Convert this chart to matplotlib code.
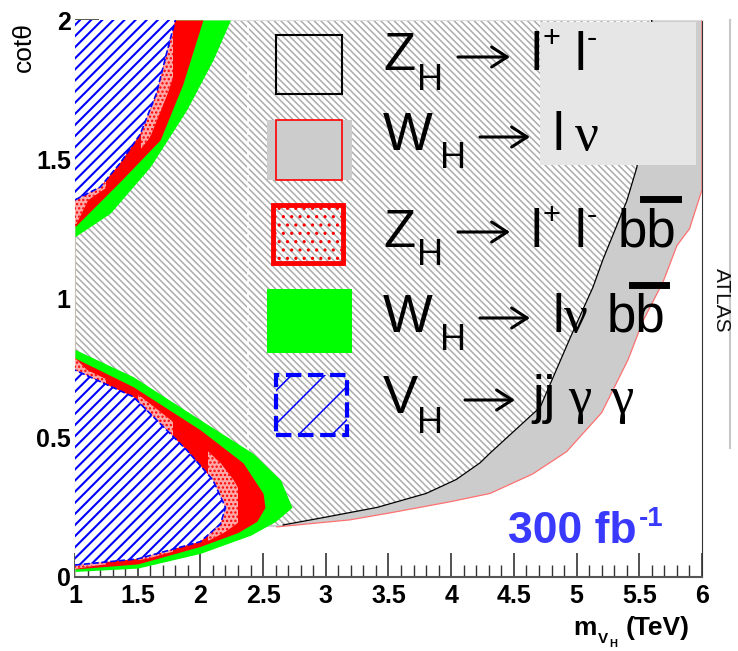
import numpy as np
import matplotlib
matplotlib.use('Agg')
import matplotlib.pyplot as plt
from matplotlib.patches import Rectangle
from matplotlib.lines import Line2D

plt.rcParams['font.family'] = ['Liberation Sans', 'DejaVu Sans']
plt.rcParams['hatch.linewidth'] = 1.1

# W_H -> l nu : lower (red) edge of the grey reach
wlnu_x = [2.61, 3.19, 3.51, 3.99, 4.31, 4.65, 4.92, 5.20, 5.41, 5.53, 5.69, 5.80, 5.90, 6.00]
wlnu_y = [0.18, 0.205, 0.23, 0.27, 0.30, 0.37, 0.45, 0.59, 0.78, 0.92, 1.06, 1.19, 1.25, 1.39]

# Z_H -> l+ l- : lower (black) edge of the hatched reach
zll_x = [2.66, 3.00, 3.41, 3.80, 4.04, 4.23, 4.31, 4.71, 4.95, 5.13, 5.21, 5.40, 5.48, 5.55, 5.60]
zll_y = [0.187, 0.215, 0.25, 0.30, 0.35, 0.41, 0.445, 0.61, 0.86, 1.04, 1.14, 1.35, 1.47, 1.70, 2.00]

# contours given as x-edge vs cot(theta), lower lobe
wlnubb_lo_y = [0.02, 0.032, 0.085, 0.15, 0.20, 0.25, 0.348, 0.444, 0.564, 0.719, 0.817]
wlnubb_lo_x = [1.00, 1.50, 2.00, 2.40, 2.60, 2.73, 2.64, 2.42, 2.00, 1.465, 1.00]
zllbb_lo_y = [0.029, 0.047, 0.11, 0.16, 0.20, 0.25, 0.30, 0.41, 0.528, 0.683, 0.786]
zllbb_lo_x = [1.00, 1.50, 2.00, 2.30, 2.45, 2.515, 2.50, 2.34, 2.00, 1.465, 1.00]
jjgg_lo_y = [0.043, 0.065, 0.127, 0.19, 0.25, 0.27, 0.348, 0.456, 0.647, 0.743]
jjgg_lo_x = [1.00, 1.50, 2.00, 2.16, 2.20, 2.18, 2.10, 1.89, 1.465, 1.00]

# upper lobe
wlnubb_up_y = [1.222, 1.306, 1.473, 1.677, 1.856, 2.00]
wlnubb_up_x = [1.00, 1.28, 1.60, 1.89, 2.10, 2.24]
zllbb_up_y = [1.258, 1.42, 1.57, 1.77, 2.00]
zllbb_up_x = [1.00, 1.36, 1.68, 1.86, 2.02]
jjgg_up_y = [1.354, 1.40, 1.486, 1.59, 1.737, 1.88, 2.00]
jjgg_up_x = [1.00, 1.20, 1.36, 1.52, 1.65, 1.73, 1.80]

xticks = [1, 1.5, 2, 2.5, 3, 3.5, 4, 4.5, 5, 5.5, 6]
xticklabels = ['1', '1.5', '2', '2.5', '3', '3.5', '4', '4.5', '5', '5.5', '6']
yticks = [0, 0.5, 1, 1.5, 2]
yticklabels = ['0', '0.5', '1', '1.5', '2']

W, H = 738, 651


def P(px, py):
    return px / W, 1 - py / H


fig = plt.figure(figsize=(7.38, 6.51), dpi=100)
ax = fig.add_axes([75/W, 1-577/H, 627/W, 557/H])
ax.set_xlim(1, 6)
ax.set_ylim(0, 2)
ax.set_axisbelow(True)

# grey W_H -> l nu reach
ax.fill([1.0] + wlnu_x + [6.0, 1.0], [0.175] + wlnu_y + [2.0, 2.0],
        color='#cccccc', lw=0, zorder=1)
# hatched Z_H -> l+ l- reach
ax.fill([1.0] + zll_x + [1.0], [0.18] + zll_y + [2.0],
        facecolor='white', edgecolor='#ababab', hatch='\\' * 5, lw=0, zorder=2)
ax.plot(wlnu_x + [6.0], wlnu_y + [2.0], color='#ff7070', lw=0.9, zorder=3)
ax.plot(zll_x, zll_y, color='black', lw=0.9, zorder=3)
ax.plot([2.38, 2.38], [0.456, 2.0], color='white', ls=(0, (4, 3)), lw=1.2, zorder=3)


def pink(ax, yb, xb, yr, xr, spans):
    yy = np.linspace(min(yr), max(yr), 200)
    xb_i = np.interp(yy, yb, xb, left=1.0, right=1.0)
    xr_i = np.interp(yy, yr, xr)
    xm = 0.5 * (xb_i + xr_i)
    for a, b in spans:
        p = ax.fill_betweenx(yy, xb_i, xm, facecolor='#ffa8a8', edgecolor='red',
                             hatch='....', lw=0, zorder=6)
        r = Rectangle((a, 0), b - a, 2, transform=ax.transData)
        p.set_clip_path(r)


for yg, xg, yr, xr, yb, xb, spans in [
        (wlnubb_lo_y, wlnubb_lo_x, zllbb_lo_y, zllbb_lo_x, jjgg_lo_y, jjgg_lo_x,
         [(1.0, 1.25), (1.5, 1.78), (2.06, 2.3)]),
        (wlnubb_up_y, wlnubb_up_x, zllbb_up_y, zllbb_up_x, jjgg_up_y, jjgg_up_x,
         [(1.0, 1.25), (1.53, 1.78)])]:
    ax.fill_betweenx(yg, 1, xg, color='#00ff00', lw=0, zorder=4)
    ax.fill_betweenx(yr, 1, xr, color='#ff0000', lw=0, zorder=5)
    pink(ax, yb, xb, yr, xr, spans)
    bl = ax.fill_betweenx(yb, 1, xb, facecolor='white', edgecolor='#0000ff',
                          hatch='///', lw=0, zorder=7)
    if hasattr(bl, 'set_hatch_linewidth'):
        bl.set_hatch_linewidth(1.5)
    ax.plot(xb, yb, color='#0000ff', ls='--', lw=1.2, zorder=8)

# light grey box behind upper legend lines
ax.add_patch(Rectangle((4.708, 1.479), 1.244, 0.514, color='#e6e6e6', lw=0, zorder=9))

# legend symbols
ax.add_patch(Rectangle((2.603, 1.734), 0.526, 0.212, fill=False, edgecolor='black',
                       lw=1.5, zorder=10))
ax.add_patch(Rectangle((2.531, 1.425), 0.678, 0.216, color='#cccccc', lw=0, zorder=10))
ax.add_patch(Rectangle((2.603, 1.425), 0.526, 0.216, fill=False, edgecolor='red',
                       lw=1.2, zorder=11))
ax.add_patch(Rectangle((2.579, 1.127), 0.558, 0.209, fill=False, edgecolor='red',
                       hatch='..', lw=3.5, zorder=10))
ax.add_patch(Rectangle((2.531, 0.804), 0.678, 0.230, color='#00ff00', lw=0, zorder=10))
ax.add_patch(Rectangle((2.603, 0.51), 0.57, 0.215, fill=False, edgecolor='#0000ff',
                       hatch='/', lw=3, ls='--', zorder=10))

# legend texts, built piece by piece (text, x px, baseline px, size, family)
big, sub, sup = 38, 26, 22
serif = ['Liberation Serif', 'DejaVu Serif']
pieces = [
    ('Z', 383, 70, big, None), ('H', 417, 90, sub, None),
    ('l', 530, 70, big, None), ('+', 543, 47, sup, None),
    ('l', 575, 70, big, None), ('-', 587, 47, sup, None),
    ('W', 383, 150, big, None), ('H', 440, 168, sub, None),
    ('l', 553, 150, big, None), ('ν', 575, 150, big, serif),
    ('Z', 383, 247, big, None), ('H', 417, 265, sub, None),
    ('l', 530, 247, big, None), ('+', 543, 224, sup, None),
    ('l', 575, 247, big, None), ('-', 587, 224, sup, None),
    ('bb', 618, 247, big, None),
    ('W', 383, 332, big, None), ('H', 440, 350, sub, None),
    ('l', 553, 332, big, None), ('ν', 564, 332, big, serif),
    ('bb', 607, 332, big, None),
    ('V', 383, 413, big, None), ('H', 417, 433, sub, None),
    ('jj', 532, 413, big, None), ('γ', 568, 413, big, serif),
    ('γ', 610, 413, big, serif),
]
for s, px, py, size, fam in pieces:
    kw = {'family': fam} if fam else {}
    fig.text(*P(px, py), s, fontsize=size, ha='left', va='baseline', **kw)

# arrows (x start, x end, y px)
for x0, x1, yy in [(458, 510, 57), (480, 530, 137), (458, 510, 232),
                   (480, 530, 318), (465, 515, 400)]:
    ax.annotate('', xy=P(x1, yy), xytext=P(x0, yy), xycoords='figure fraction',
                textcoords='figure fraction',
                arrowprops=dict(arrowstyle='->,head_length=0.7,head_width=0.45',
                                lw=2.2, color='black', mutation_scale=16,
                                shrinkA=0, shrinkB=0))
# bars over the anti-b
for x0, x1, yy in [(643, 678, 199), (632, 666, 285)]:
    fig.add_artist(Line2D([x0 / W, x1 / W], [1 - yy / H] * 2, color='black', lw=5))

fig.text(*P(508, 543), '300 fb', fontsize=32, fontweight='bold', color='#3a3aff',
         ha='left', va='baseline')
fig.text(*P(639, 526), '-1', fontsize=20, fontweight='bold', color='#3a3aff',
         ha='left', va='baseline')

ax.set_xticks(xticks)
ax.set_xticklabels(xticklabels)
ax.set_xticks(np.arange(1, 6.01, 0.1), minor=True)
ax.set_yticks(yticks)
ax.set_yticklabels(yticklabels)
ax.tick_params(axis='both', which='major', direction='in', length=17, width=1.2,
               labelsize=18, color='#333333')
ax.tick_params(axis='both', which='minor', direction='in', length=9, width=1.0,
               color='#333333')
ax.tick_params(axis='x', pad=5)
ax.tick_params(axis='y', pad=3)
for lab in ax.get_xticklabels() + ax.get_yticklabels():
    lab.set_fontweight('bold')

ax.spines['left'].set_color('#c8c0b0')
ax.spines['top'].set_color('#dddddd')
ax.spines['right'].set_color('#333333')
ax.spines['bottom'].set_color('#555555')
ax.spines['bottom'].set_linewidth(1.5)

fig.text(*P(24, 22), 'cotθ', rotation=90, ha='center', va='top', fontsize=19)
# x axis title m_{V_H} (TeV)
fig.text(*P(573, 635), 'm', fontsize=19, fontweight='bold', ha='left', va='baseline')
fig.text(*P(598, 643), 'V', fontsize=11, fontweight='bold', ha='left', va='baseline')
fig.text(*P(609, 647), 'H', fontsize=8, fontweight='bold', ha='left', va='baseline')
fig.text(*P(626, 635), '(TeV)', fontsize=19, fontweight='bold', ha='left', va='baseline')

fig.text(*P(721, 300), 'ATLAS', rotation=-90, ha='center', va='center',
         fontsize=15, color='#111111')
fig.add_artist(Line2D([730/W, 730/W], [1-20/H, 1-448/H], color='#c8c8c8', lw=1.5))

fig.savefig('out.png', dpi=100)
